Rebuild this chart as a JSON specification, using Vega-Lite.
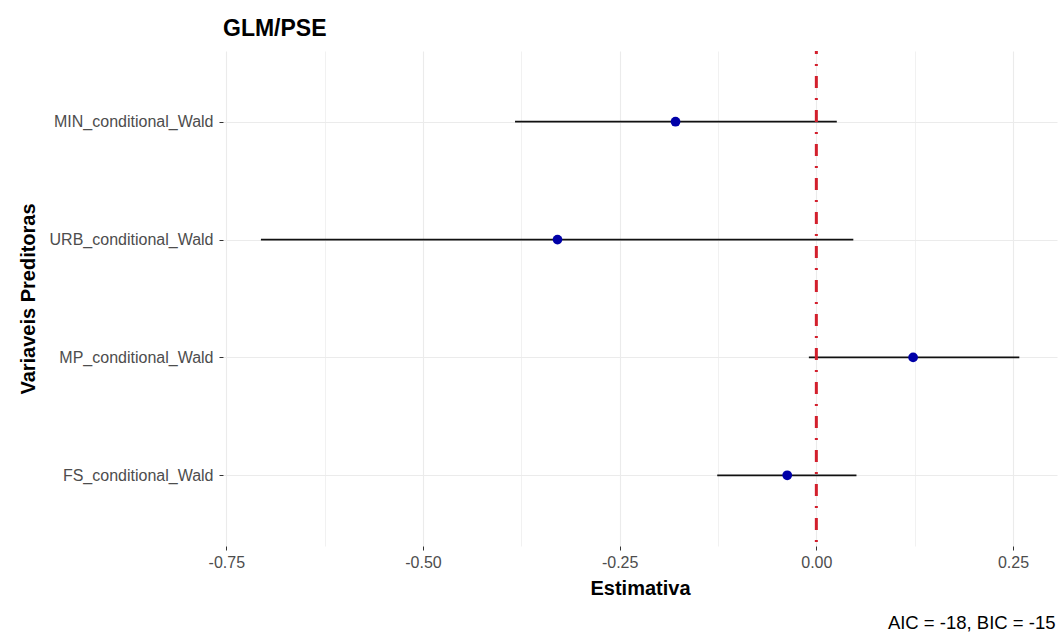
{
  "$schema": "https://vega.github.io/schema/vega-lite/v6.json",
  "width": 834,
  "height": 495,
  "autosize": {"type": "none"},
  "padding": {"left": 223, "top": 51, "right": 5, "bottom": 98},
  "background": "white",
  "title": {"text": "GLM/PSE", "anchor": "start", "frame": "group", "font": "Liberation Sans", "fontSize": 23, "fontWeight": "bold", "color": "#000000", "offset": 9},
  "config": {"view": {"stroke": null}, "font": "Liberation Sans"},
  "datasets": {
    "est": [
      {"term": "MIN_conditional_Wald", "estimate": -0.179, "lower": -0.383, "upper": 0.026},
      {"term": "URB_conditional_Wald", "estimate": -0.329, "lower": -0.706, "upper": 0.047},
      {"term": "MP_conditional_Wald", "estimate": 0.123, "lower": -0.0095, "upper": 0.258},
      {"term": "FS_conditional_Wald", "estimate": -0.037, "lower": -0.126, "upper": 0.051}
    ],
    "ref": [{"ref": 0}]
  },
  "layer": [
    {
      "data": {"name": "est"},
      "mark": {"type": "rule", "color": "#111111", "strokeWidth": 1.7},
      "encoding": {
        "y": {
          "field": "term", "type": "nominal",
          "sort": ["MIN_conditional_Wald", "URB_conditional_Wald", "MP_conditional_Wald", "FS_conditional_Wald"],
          "scale": {"type": "point", "padding": 0.6},
          "axis": {
            "title": "Variaveis Preditoras", "titleFontSize": 20, "titleFontWeight": "bold", "titleColor": "#000000", "titlePadding": 11,
            "labelFontSize": 16, "labelColor": "#4d4d4d", "labelPadding": 6,
            "tickSize": 4, "tickColor": "#333333", "tickWidth": 1,
            "domain": false, "grid": true, "gridColor": "#ebebeb", "gridWidth": 1.1
          }
        },
        "x": {
          "field": "lower", "type": "quantitative",
          "scale": {"domain": [-0.7542, 0.3059], "nice": false, "zero": false},
          "axis": {
            "title": "Estimativa", "titleFontSize": 20, "titleFontWeight": "bold", "titleColor": "#000000", "titlePadding": 8,
            "values": [-0.75, -0.625, -0.5, -0.375, -0.25, -0.125, 0, 0.125, 0.25],
            "labelExpr": "abs(datum.value*4 - round(datum.value*4)) < 0.01 ? replace(format(datum.value, '.2f'), '\u2212', '-') : ''",
            "labelFontSize": 16, "labelColor": "#4d4d4d", "labelPadding": 4,
            "tickSize": 4, "tickWidth": 1,
            "tickColor": {"condition": {"test": "abs(datum.value*4 - round(datum.value*4)) > 0.01", "value": "transparent"}, "value": "#333333"},
            "domain": false, "grid": true,
            "gridColor": "#ebebeb",
            "gridWidth": {"condition": {"test": "abs(datum.value*4 - round(datum.value*4)) > 0.01", "value": 0.7}, "value": 1.1}
          }
        },
        "x2": {"field": "upper"}
      }
    },
    {
      "data": {"name": "ref"},
      "mark": {"type": "rule", "color": "#d21f2c", "strokeWidth": 3, "strokeDash": [2, 10, 12, 10], "strokeDashOffset": 21},
      "encoding": {
        "x": {
          "field": "ref", "type": "quantitative",
          "axis": {
            "orient": "bottom", "labels": false, "ticks": false, "domain": false, "grid": false,
            "title": "AIC = -18, BIC = -15", "titleFontSize": 18.5, "titleFontWeight": "normal", "titleColor": "#000000",
            "titleAnchor": "end", "titleAlign": "right", "titleBaseline": "alphabetic", "titleX": 832, "titleY": 82
          }
        }
      }
    },
    {
      "data": {"name": "est"},
      "mark": {"type": "point", "filled": true, "opacity": 1, "color": "#0000a8", "size": 95},
      "encoding": {
        "y": {"field": "term", "type": "nominal", "sort": ["MIN_conditional_Wald", "URB_conditional_Wald", "MP_conditional_Wald", "FS_conditional_Wald"]},
        "x": {"field": "estimate", "type": "quantitative", "axis": null}
      }
    }
  ],
  "resolve": {"axis": {"x": "independent"}}
}
